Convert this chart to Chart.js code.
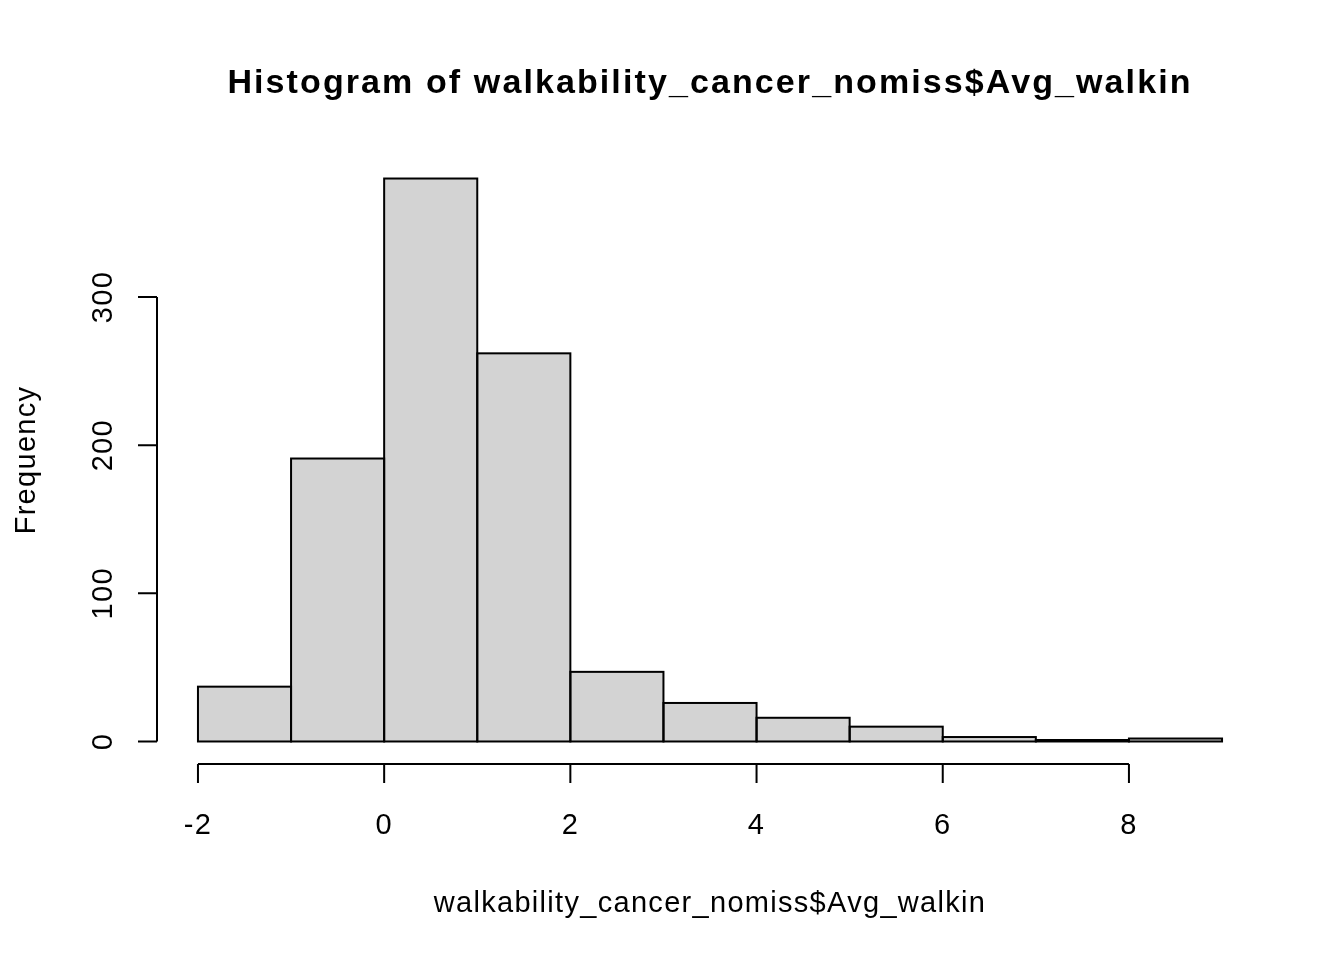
<!DOCTYPE html>
<html>
<head>
<meta charset="utf-8">
<script src="https://cdn.jsdelivr.net/npm/chart.js@4/dist/chart.umd.min.js"></script>
<style>
  html, body { margin: 0; padding: 0; background: #ffffff; }
  #wrap { width: 1344px; height: 960px; }
</style>
</head>
<body>
<div id="wrap"><canvas id="c" width="1344" height="960"></canvas></div>
<script>
// ---- data ----
const binStarts = [-2, -1, 0, 1, 2, 3, 4, 5, 6, 7, 8];
const frequencies = [37, 191, 380, 262, 47, 26, 16, 10, 3, 1, 2];
const xTicks = [-2, 0, 2, 4, 6, 8];
const yTicks = [0, 100, 200, 300];
const titleText = "Histogram of walkability_cancer_nomiss$Avg_walkin";
const xLabel = "walkability_cancer_nomiss$Avg_walkin";
const yLabel = "Frequency";

const FONT = '"Liberation Sans", Arial, sans-serif';

const points = binStarts.map((b, i) => ({ x: b + 0.5, y: frequencies[i] }));

const rAxes = {
  id: 'rAxes',
  afterDatasetsDraw(chart) {
    const ctx = chart.ctx;
    const meta = chart.getDatasetMeta(0);
    ctx.save();
    ctx.strokeStyle = '#000';
    ctx.lineWidth = 2;
    meta.data.forEach(el => {
      const p = el.getProps(['x', 'y', 'base', 'width'], true);
      const l = p.x - p.width / 2;
      ctx.strokeRect(l, p.y, p.width, p.base - p.y);
    });
    ctx.restore();
  },
  afterDraw(chart) {
    const ctx = chart.ctx;
    const xs = chart.scales.x, ys = chart.scales.y;
    const ca = chart.chartArea;
    ctx.save();
    ctx.strokeStyle = '#000';
    ctx.fillStyle = '#000';
    ctx.lineWidth = 2;
    // y axis
    const yAxX = ca.left;
    ctx.beginPath();
    ctx.moveTo(yAxX, ys.getPixelForValue(yTicks[0]));
    ctx.lineTo(yAxX, ys.getPixelForValue(yTicks[yTicks.length - 1]));
    yTicks.forEach(t => {
      const p = ys.getPixelForValue(t);
      ctx.moveTo(yAxX, p);
      ctx.lineTo(yAxX - 19, p);
    });
    ctx.stroke();
    ctx.font = '29px ' + FONT;
    ctx.letterSpacing = '1.3px';
    ctx.textAlign = 'center';
    ctx.textBaseline = 'alphabetic';
    yTicks.forEach(t => {
      const p = ys.getPixelForValue(t);
      ctx.save();
      ctx.translate(yAxX - 45, p);
      ctx.rotate(-Math.PI / 2);
      ctx.fillText(String(t), 0, 0);
      ctx.restore();
    });
    // x axis
    const xAxY = ca.bottom;
    ctx.beginPath();
    ctx.moveTo(xs.getPixelForValue(xTicks[0]), xAxY);
    ctx.lineTo(xs.getPixelForValue(xTicks[xTicks.length - 1]), xAxY);
    xTicks.forEach(t => {
      const p = xs.getPixelForValue(t);
      ctx.moveTo(p, xAxY);
      ctx.lineTo(p, xAxY + 19);
    });
    ctx.stroke();
    xTicks.forEach(t => {
      const p = xs.getPixelForValue(t);
      ctx.fillText(String(t), p, xAxY + 70);
    });
    // axis titles
    const cx = (ca.left + ca.right) / 2;
    const cy = (ca.top + ca.bottom) / 2;
    ctx.fillText(xLabel, cx, 912);
    ctx.save();
    ctx.translate(35, cy);
    ctx.rotate(-Math.PI / 2);
    ctx.fillText(yLabel, 0, 0);
    ctx.restore();
    // main title
    ctx.font = 'bold 34px ' + FONT;
    ctx.letterSpacing = '2.1px';
    ctx.fillText(titleText, cx, 93);
    ctx.restore();
  }
};

new Chart(document.getElementById('c'), {
  type: 'bar',
  data: {
    datasets: [{
      data: points,
      backgroundColor: '#D3D3D3',
      borderWidth: 0,
      barPercentage: 1.0,
      categoryPercentage: 1.0,
      grouped: false
    }]
  },
  options: {
    responsive: false,
    animation: false,
    devicePixelRatio: 1,
    layout: { padding: { left: 157, right: 81, top: 156, bottom: 196 } },
    plugins: { legend: { display: false }, tooltip: { enabled: false }, title: { display: false } },
    scales: {
      x: { type: 'linear', min: -2.44, max: 9.44, display: false, offset: false },
      y: { type: 'linear', min: -15.2, max: 395.2, display: false }
    }
  },
  plugins: [rAxes]
});
</script>
</body>
</html>
